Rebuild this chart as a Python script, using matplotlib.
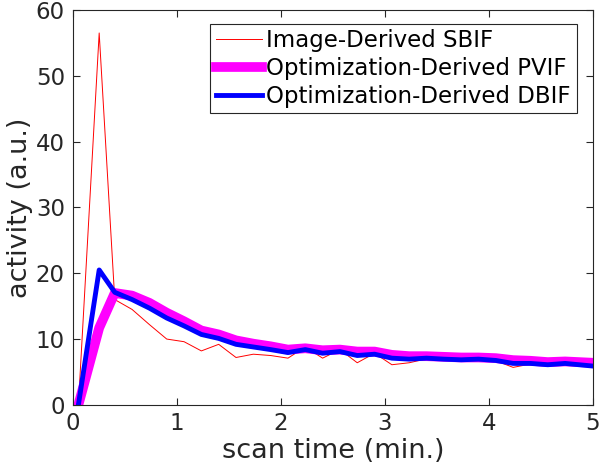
import numpy as np
import matplotlib
matplotlib.use("Agg")
import matplotlib.pyplot as plt

# frame times (min.)
t = [0.05, 0.25] + [0.4 + k / 6 for k in range(28)]
t[-1] = 5.0

sbif = [0.0, 56.5, 16.0, 14.5, 12.2, 10.0, 9.6, 8.2, 9.2, 7.2, 7.7, 7.5, 7.1, 8.8, 7.1, 8.4,
        6.4, 7.85, 6.1, 6.4, 7.0, 6.9, 6.8, 6.9, 6.7, 5.7, 6.2, 6.0, 6.2, 5.8]
pvif = [0.0, 11.7, 17.0, 16.6, 15.5, 14.0, 12.7, 11.3, 10.7, 9.8, 9.3, 8.9, 8.4, 8.6, 8.3, 8.4,
        8.1, 8.1, 7.6, 7.4, 7.4, 7.3, 7.2, 7.2, 7.1, 6.8, 6.7, 6.5, 6.6, 6.4]
dbif = [0.0, 20.5, 17.1, 16.0, 14.7, 13.2, 12.0, 10.7, 10.1, 9.2, 8.8, 8.4, 7.95, 8.4, 7.85, 8.1,
        7.5, 7.7, 7.1, 6.95, 7.1, 6.95, 6.85, 6.95, 6.75, 6.3, 6.3, 6.1, 6.3, 5.9]

fig = plt.figure(figsize=(6, 4.73), dpi=100)
ax = fig.add_axes([0.122, 0.144, 0.866, 0.835])

ax.plot(t, sbif, color='red', lw=0.7, label='Image-Derived SBIF')
ax.plot(t, pvif, color='magenta', lw=7, label='Optimization-Derived PVIF')
ax.plot(t, dbif, color='blue', lw=3.5, label='Optimization-Derived DBIF')

ax.set_xlim(0, 5)
ax.set_ylim(0, 60)
ax.set_xticks(range(6))
ax.set_yticks(range(0, 61, 10))
ax.tick_params(direction='in', top=True, right=True, labelsize=16.5, colors='0.15', length=5)
ax.tick_params(axis='y', pad=6)
ax.tick_params(axis='x', pad=5)
for s in ax.spines.values():
    s.set_color('0.15')
    s.set_linewidth(0.8)
ax.set_xlabel('scan time (min.)', fontsize=19.5, color='0.15', labelpad=2)
ax.set_ylabel('activity (a.u.)', fontsize=19.5, color='0.15', labelpad=2)

leg = ax.legend(loc='upper right', bbox_to_anchor=(0.969, 0.965), borderaxespad=0,
                fontsize=16.5, fancybox=False, framealpha=1, edgecolor='0.15',
                borderpad=0.25, labelspacing=0.2, handlelength=2.0, handletextpad=0.2)
leg.get_frame().set_linewidth(0.8)

fig.savefig('out.png', dpi=100)
